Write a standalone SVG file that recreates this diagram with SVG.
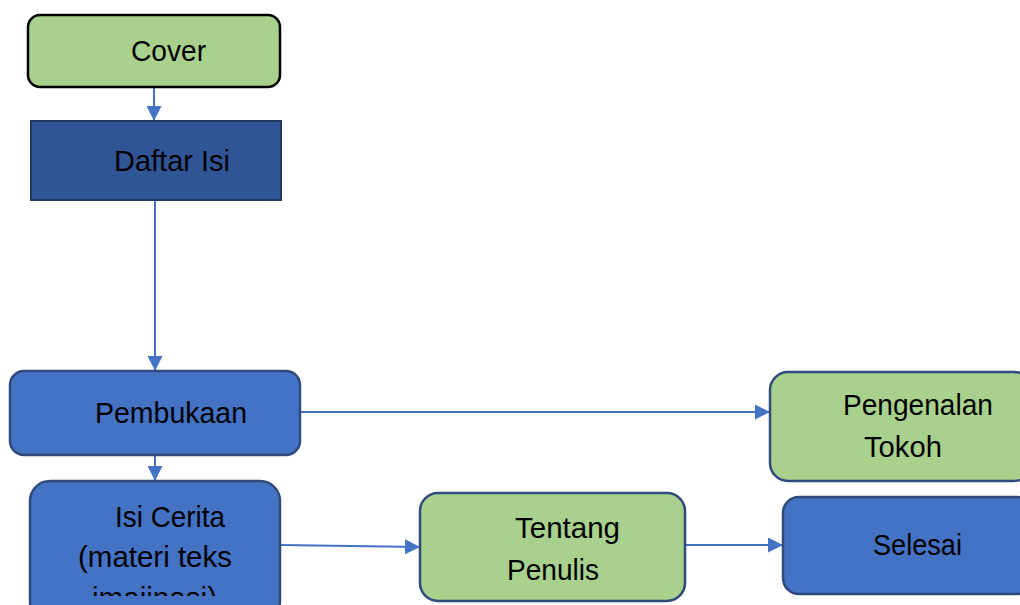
<svg xmlns="http://www.w3.org/2000/svg" width="1020" height="605" viewBox="0 0 1020 605">
<defs>
<style>
.t{font-family:"Liberation Sans",Arial,sans-serif;font-size:29px;fill:#000}
.green{fill:#a9d18e;stroke:#2f4b7c;stroke-width:2.5}
.blue{fill:#4472c4;stroke:#2f4b7c;stroke-width:2.5}
.conn{stroke:#4472c4;stroke-width:2;fill:none;marker-end:url(#ah)}
</style>
<marker id="ah" viewBox="0 0 10 10" refX="10" refY="5" markerWidth="7.5" markerHeight="7.5" markerUnits="strokeWidth" orient="auto">
<path d="M0,0 L10,5 L0,10 z" fill="#4472c4"/>
</marker>
<clipPath id="isiclip"><rect x="30" y="481" width="252" height="115"/></clipPath>
</defs>
<rect width="1020" height="605" fill="#fff"/>
<g id="connectors">
<line class="conn" x1="154" y1="87" x2="154" y2="121"/>
<line class="conn" x1="155" y1="200" x2="155" y2="371"/>
<line class="conn" x1="155" y1="455" x2="155" y2="481"/>
<line class="conn" x1="300" y1="412" x2="770" y2="412"/>
<line class="conn" x1="281" y1="545" x2="420" y2="547"/>
<line class="conn" x1="686" y1="545" x2="783" y2="545"/>
</g>
<g id="cover">
<rect x="28" y="15" width="252" height="72" rx="12" fill="#a9d18e" stroke="#000" stroke-width="2.5"/>
<text class="t" x="131" y="61" textLength="75" lengthAdjust="spacingAndGlyphs">Cover</text>
</g>
<g id="daftar-isi">
<rect x="31" y="121" width="250" height="79" fill="#2f5597" stroke="#203864" stroke-width="2"/>
<text class="t" x="114" y="171" textLength="116" lengthAdjust="spacingAndGlyphs">Daftar Isi</text>
</g>
<g id="pembukaan">
<rect class="blue" x="10" y="371" width="290" height="84" rx="14"/>
<text class="t" x="95" y="423" textLength="152" lengthAdjust="spacingAndGlyphs">Pembukaan</text>
</g>
<g id="pengenalan-tokoh">
<rect class="green" x="770" y="372" width="262" height="109" rx="18"/>
<text class="t" x="843" y="415" textLength="150" lengthAdjust="spacingAndGlyphs">Pengenalan</text>
<text class="t" x="864" y="457" textLength="78" lengthAdjust="spacingAndGlyphs">Tokoh</text>
</g>
<g id="isi-cerita">
<rect class="blue" x="30" y="481" width="250" height="140" rx="20"/>
<text class="t" x="115" y="527" textLength="110" lengthAdjust="spacingAndGlyphs">Isi Cerita</text>
<text class="t" x="78" y="567" textLength="154" lengthAdjust="spacingAndGlyphs">(materi teks</text>
<text class="t" x="92" y="608" textLength="125" lengthAdjust="spacingAndGlyphs" clip-path="url(#isiclip)">imajinasi)</text>
</g>
<g id="tentang-penulis">
<rect class="green" x="420" y="493" width="265" height="108" rx="18"/>
<text class="t" x="515" y="538" textLength="105" lengthAdjust="spacingAndGlyphs">Tentang</text>
<text class="t" x="507" y="580" textLength="92" lengthAdjust="spacingAndGlyphs">Penulis</text>
</g>
<g id="selesai">
<rect class="blue" x="783" y="497" width="250" height="97" rx="16"/>
<text class="t" x="873" y="555" textLength="89" lengthAdjust="spacingAndGlyphs">Selesai</text>
</g>
</svg>
